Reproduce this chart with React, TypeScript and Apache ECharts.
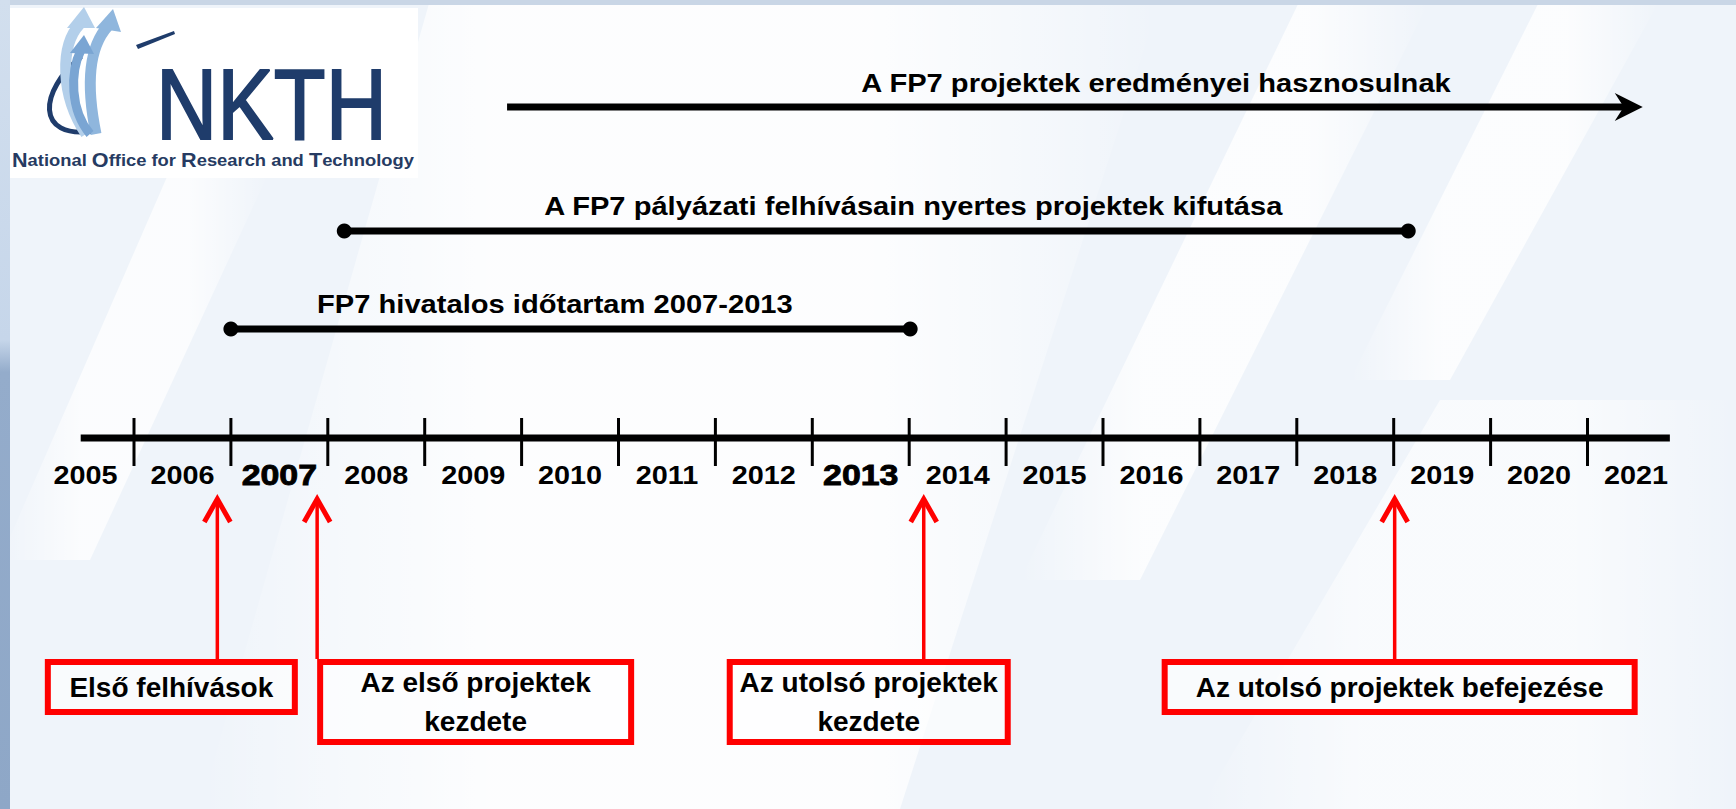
import React, { useEffect, useRef } from "react";
import * as echarts from "echarts";

// ---------------- data ----------------
const YEARS = [2005, 2006, 2007, 2008, 2009, 2010, 2011, 2012, 2013, 2014, 2015, 2016, 2017, 2018, 2019, 2020, 2021];
const HIGHLIGHT_YEARS = [2007, 2013];
const TICK_YEARS = [2006, 2007, 2008, 2009, 2010, 2011, 2012, 2013, 2014, 2015, 2016, 2017, 2018, 2019, 2020, 2021];
const TIMELINE_SPAN = [2005.45, 2021.85];

const PERIOD_LABELS = [
  "A FP7 projektek eredményei hasznosulnak",
  "A FP7 pályázati felhívásain nyertes projektek kifutása",
  "FP7 hivatalos időtartam 2007-2013",
];
const PERIOD_START = [2009.85, 2008.17, 2007.0];
const PERIOD_END = [2021.57, 2019.15, 2014.01];
const PERIOD_END_MARK = ["arrow", "dot", "dot"];

const EVENT_LABELS = [
  "Első felhívások",
  "Az első projektek\nkezdete",
  "Az utolsó projektek\nkezdete",
  "Az utolsó projektek befejezése",
];
const EVENT_YEARS = [2006.86, 2007.89, 2014.15, 2019.01];

// ---------------- layout (px) ----------------
const W = 1736;
const H = 809;
const PX_PER_YEAR = 96.9;
const TICK_2006_PX = 134;
const X_MIN = 2006 - TICK_2006_PX / PX_PER_YEAR;
const X_MAX = X_MIN + W / PX_PER_YEAR;

const ROW_TIMELINE = 438;
const ROW_YEAR_LABEL = 475;
const ROW_ARROW_TIP = 497;
const ROW_BOX_TOP = 659;
const PERIOD_ROWS = [107, 231, 329];
const PERIOD_TEXT_ROWS = [83, 206, 304];
const PERIOD_TEXT_DX = [649, 569, 324];
const BOX_DX = [-46, 158.5, -55, 5];
const BOX_W = [253, 317, 284, 476];
const BOX_H = [56, 86, 86, 56];

const FONT = "'Liberation Sans', Arial, Helvetica, sans-serif";
const RED = "#ff0000";
const INK = "#000000";
const NAVY = "#1f3c6b";
const STRETCH = 1.12;

function txt(text: string, size: number, extra: any = {}) {
  return {
    text,
    fill: INK,
    fontSize: size,
    fontWeight: "bold",
    fontFamily: FONT,
    align: "center",
    textAlign: "center",
    verticalAlign: "middle",
    textVerticalAlign: "middle",
    ...extra,
  };
}

function softWhite(alpha: number) {
  return new echarts.graphic.LinearGradient(0, 0, 1, 0, [
    { offset: 0, color: "rgba(255,255,255,0)" },
    { offset: 0.3, color: `rgba(255,255,255,${alpha})` },
    { offset: 0.7, color: `rgba(255,255,255,${alpha})` },
    { offset: 1, color: "rgba(255,255,255,0)" },
  ]);
}

function buildOption() {
  const bands: [number[][], number][] = [
    [[[430, 0], [1160, 0], [900, 809], [200, 809]], 0.85],
    [[[1300, 0], [1430, 0], [1140, 580], [1020, 580]], 0.8],
    [[[1540, 0], [1660, 0], [1450, 380], [1350, 380]], 0.8],
    [[[170, 170], [270, 170], [90, 560], [0, 560]], 0.75],
    [[[1440, 400], [1736, 400], [1736, 809], [1200, 809]], 0.6],
  ];
  const background: any[] = [
    { type: "rect", z: -100, silent: true, shape: { x: 0, y: 0, width: W, height: H }, style: { fill: "#eff4fa" } },
    ...bands.map(([pts, a]) => ({
      type: "polygon",
      z: -99,
      silent: true,
      shape: { points: pts },
      style: { fill: softWhite(a) },
    })),
    { type: "rect", z: -98, silent: true, shape: { x: 0, y: 0, width: W, height: 5 }, style: { fill: "#c9d6e6" } },
    {
      type: "rect",
      z: -98,
      silent: true,
      shape: { x: 0, y: 0, width: 10, height: H },
      style: {
        fill: new echarts.graphic.LinearGradient(0, 0, 0, 1, [
          { offset: 0, color: "#d2dfee" },
          { offset: 0.42, color: "#c6d6ea" },
          { offset: 0.46, color: "#94accb" },
          { offset: 1, color: "#8ea7c7" },
        ]),
      },
    },
  ];

  const logo: any[] = [
    { type: "rect", z: 10, silent: true, shape: { x: 10, y: 8, width: 408, height: 170 }, style: { fill: "#ffffff" } },
    // swoosh
    {
      type: "bezierCurve", z: 11, silent: true,
      shape: { x1: 80, y1: 58, cpx1: 40, cpy1: 90, cpx2: 34, cpy2: 140, x2: 94, y2: 131 },
      style: { stroke: NAVY, lineWidth: 5, fill: null, lineCap: "round" },
    },
    {
      type: "bezierCurve", z: 11, silent: true,
      shape: { x1: 86, y1: 134, cpx1: 60, cpy1: 95, cpx2: 60, cpy2: 45, x2: 80, y2: 24 },
      style: { stroke: "#b3cfea", lineWidth: 11, fill: null },
    },
    {
      type: "bezierCurve", z: 11, silent: true,
      shape: { x1: 96, y1: 134, cpx1: 86, cpy1: 85, cpx2: 88, cpy2: 48, x2: 108, y2: 26 },
      style: { stroke: "#8fb6dd", lineWidth: 11, fill: null },
    },
    {
      type: "bezierCurve", z: 11, silent: true,
      shape: { x1: 90, y1: 134, cpx1: 70, cpy1: 110, cpx2: 70, cpy2: 72, x2: 81, y2: 50 },
      style: { stroke: "#7aa5d3", lineWidth: 9, fill: null },
    },
    { type: "polygon", z: 12, silent: true, shape: { points: [[84, 7], [67, 28], [95, 28]] }, style: { fill: "#b3cfea" } },
    { type: "polygon", z: 12, silent: true, shape: { points: [[113, 9], [96, 28], [121, 32]] }, style: { fill: "#8fb6dd" } },
    { type: "polygon", z: 12, silent: true, shape: { points: [[84, 35], [70, 53], [94, 54]] }, style: { fill: "#7aa5d3" } },
    { type: "polygon", z: 12, silent: true, shape: { points: [[136, 45], [174, 31], [175, 34], [138, 49]] }, style: { fill: NAVY } },
    {
      type: "text", z: 12, silent: true, x: 156, y: 104, scaleX: 0.84,
      style: {
        text: "NKTH", fill: NAVY, stroke: NAVY, lineWidth: 2,
        fontSize: 101, fontWeight: "normal", fontFamily: FONT,
        align: "left", textAlign: "left", verticalAlign: "middle", textVerticalAlign: "middle",
      },
    },
    {
      type: "text", z: 12, silent: true, x: 12, y: 160, scaleX: 1.08,
      style: {
        text: "{c|N}{l|ational }{c|O}{l|ffice for }{c|R}{l|esearch and }{c|T}{l|echnology}",
        align: "left", textAlign: "left", verticalAlign: "middle", textVerticalAlign: "middle",
        rich: {
          c: { fontSize: 20, fontWeight: "bold", fontFamily: FONT, fill: "#263b62" },
          l: { fontSize: 17, fontWeight: "bold", fontFamily: FONT, fill: "#263b62" },
        },
      },
    },
  ];

  const yOf = (api: any, row: number) => api.coord([X_MIN, row])[1];

  return {
    animation: false,
    backgroundColor: "#eff4fa",
    grid: { left: 0, right: 0, top: 0, bottom: 0, containLabel: false },
    xAxis: { type: "value", min: X_MIN, max: X_MAX, show: false },
    yAxis: { type: "value", min: 0, max: H, inverse: true, show: false },
    graphic: { elements: [...background, ...logo] },
    series: [
      {
        name: "timeline",
        type: "line",
        silent: true,
        symbol: "none",
        z: 3,
        data: [
          [TIMELINE_SPAN[0], ROW_TIMELINE],
          [TIMELINE_SPAN[1], ROW_TIMELINE],
        ],
        lineStyle: { color: INK, width: 7 },
      },
      {
        name: "ticks",
        type: "custom",
        silent: true,
        z: 4,
        data: TICK_YEARS.map((y) => [y, ROW_TIMELINE]),
        renderItem: (params: any, api: any) => {
          const p = api.coord([api.value(0), api.value(1)]);
          return {
            type: "line",
            shape: { x1: p[0], y1: p[1] - 20, x2: p[0], y2: p[1] + 28 },
            style: { stroke: INK, lineWidth: 3 },
          };
        },
      },
      {
        name: "years",
        type: "custom",
        silent: true,
        z: 4,
        data: YEARS.map((y) => [y + 0.5, ROW_YEAR_LABEL, y]),
        renderItem: (params: any, api: any) => {
          const p = api.coord([api.value(0), api.value(1)]);
          const yr = api.value(2);
          const hi = HIGHLIGHT_YEARS.indexOf(yr) >= 0;
          return {
            type: "text",
            x: p[0],
            y: p[1],
            scaleX: 1.13,
            style: txt(String(yr), hi ? 30 : 25.5, hi ? { stroke: INK, lineWidth: 0.9 } : {}),
          };
        },
      },
      {
        name: "periods",
        type: "custom",
        silent: true,
        z: 5,
        data: PERIOD_START.map((s, i) => [s, PERIOD_ROWS[i], PERIOD_END[i], i]),
        renderItem: (params: any, api: any) => {
          const i = api.value(3);
          const a = api.coord([api.value(0), api.value(1)]);
          const b = api.coord([api.value(2), api.value(1)]);
          const mark = PERIOD_END_MARK[i];
          const children: any[] = [];
          children.push({
            type: "line",
            shape: { x1: a[0], y1: a[1], x2: mark === "arrow" ? b[0] - 18 : b[0], y2: b[1] },
            style: { stroke: INK, lineWidth: 7 },
          });
          if (mark === "arrow") {
            children.push({
              type: "polygon",
              shape: {
                points: [
                  [b[0], b[1]],
                  [b[0] - 28, b[1] - 14],
                  [b[0] - 19, b[1]],
                  [b[0] - 28, b[1] + 14],
                ],
              },
              style: { fill: INK },
            });
          } else {
            children.push({ type: "circle", shape: { cx: a[0], cy: a[1], r: 7.5 }, style: { fill: INK } });
            children.push({ type: "circle", shape: { cx: b[0], cy: b[1], r: 7.5 }, style: { fill: INK } });
          }
          children.push({
            type: "text",
            x: a[0] + PERIOD_TEXT_DX[i],
            y: yOf(api, PERIOD_TEXT_ROWS[i]),
            scaleX: STRETCH,
            style: txt(PERIOD_LABELS[i], 26),
          });
          return { type: "group", children };
        },
      },
      {
        name: "event arrows",
        type: "custom",
        silent: true,
        z: 5,
        data: EVENT_YEARS.map((v) => [v, ROW_ARROW_TIP]),
        renderItem: (params: any, api: any) => {
          const p = api.coord([api.value(0), api.value(1)]);
          const boxTop = yOf(api, ROW_BOX_TOP);
          return {
            type: "group",
            children: [
              {
                type: "line",
                shape: { x1: p[0], y1: p[1] + 3, x2: p[0], y2: boxTop },
                style: { stroke: RED, lineWidth: 3.5 },
              },
              {
                type: "polyline",
                shape: { points: [[p[0] - 13, p[1] + 25], [p[0], p[1] + 2], [p[0] + 13, p[1] + 25]] },
                style: { stroke: RED, lineWidth: 5, fill: null, lineJoin: "miter" },
              },
            ],
          };
        },
      },
      {
        name: "event boxes",
        type: "custom",
        silent: true,
        z: 6,
        data: EVENT_YEARS.map((v, i) => [v, ROW_BOX_TOP, i]),
        renderItem: (params: any, api: any) => {
          const i = api.value(2);
          const p = api.coord([api.value(0), api.value(1)]);
          const cx = p[0] + BOX_DX[i];
          const w = BOX_W[i];
          const h = BOX_H[i];
          return {
            type: "group",
            children: [
              {
                type: "rect",
                shape: { x: cx - w / 2 + 3, y: p[1] + 3, width: w - 6, height: h - 6 },
                style: { fill: "rgba(255,255,255,0.6)", stroke: RED, lineWidth: 6 },
              },
              {
                type: "text",
                x: cx,
                y: p[1] + h / 2,
                scaleX: 1.0,
                style: txt(EVENT_LABELS[i], 28, { lineHeight: 39 }),
              },
            ],
          };
        },
      },
    ],
  };
}

export default function App() {
  const ref = useRef<HTMLDivElement>(null);
  useEffect(() => {
    document.body.style.margin = "0";
    document.body.style.overflow = "hidden";
    if (!ref.current) return;
    const chart = echarts.init(ref.current, undefined, { renderer: "svg" });
    chart.setOption(buildOption() as any);
    return () => chart.dispose();
  }, []);
  return <div ref={ref} style={{ width: W, height: H }} />;
}
